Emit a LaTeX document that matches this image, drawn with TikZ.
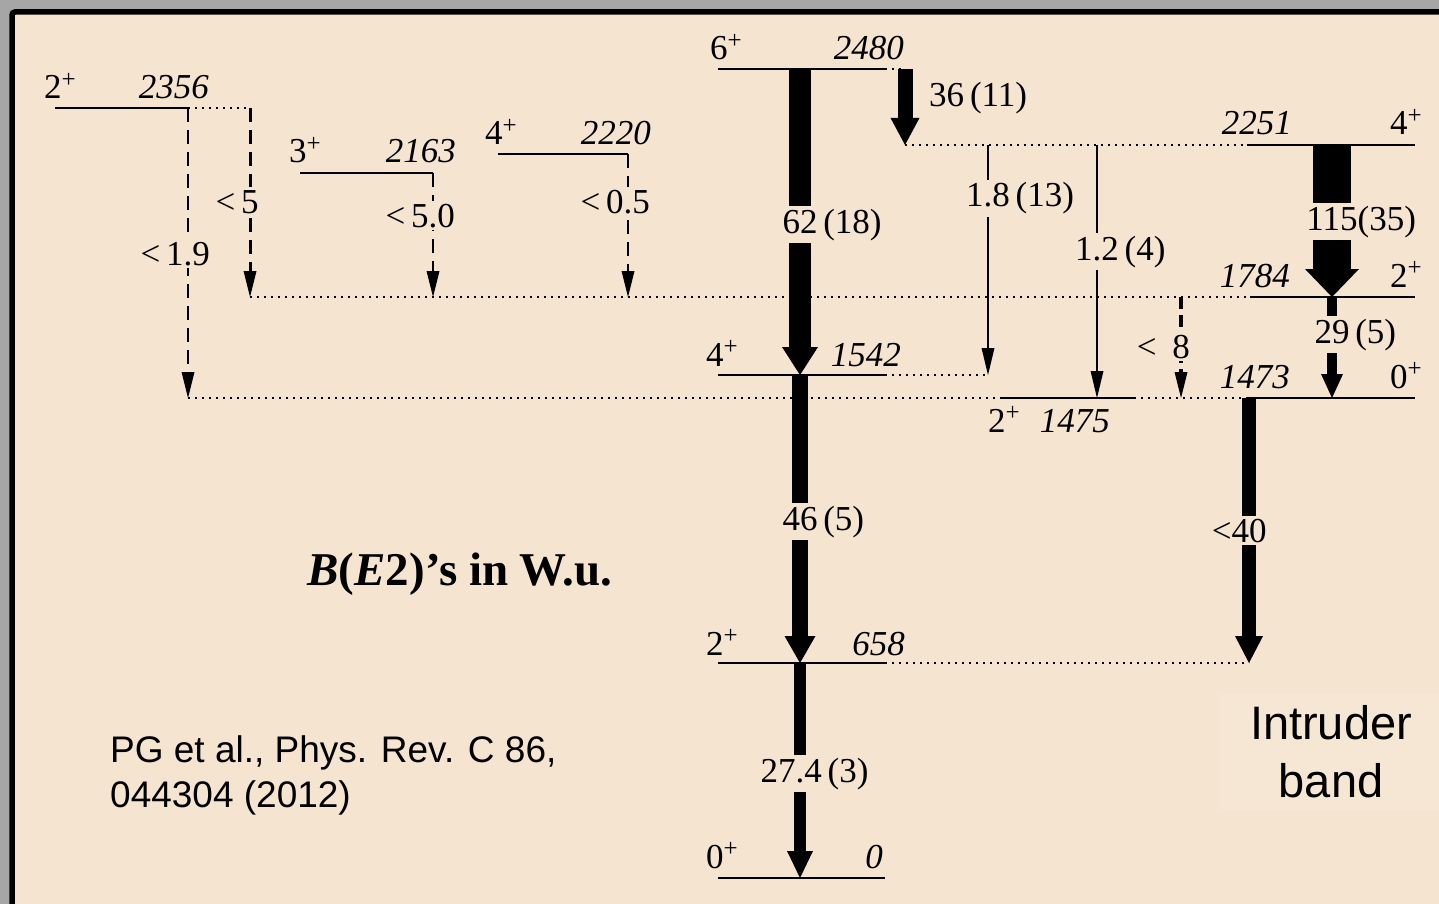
\documentclass[tikz,border=0pt]{standalone}
\usepackage{fontspec}
\setmainfont{Liberation Serif}
\setsansfont{Liberation Sans}
\usepackage{xcolor}
\usepackage{tikz}
\usetikzlibrary{arrows.meta,positioning}
\definecolor{slideGrey}{HTML}{A6A6A6}
\definecolor{slideCream}{HTML}{F5E4D0}
\definecolor{lightCream}{HTML}{F6E7D4}
\newcommand{\pl}{\raisebox{0.34em}{\fontsize{25}{25}\selectfont+}}

\begin{document}
\begin{tikzpicture}[x=1pt,y=-1pt,
    lvl/.style={line width=2pt},
    ext/.style={line width=2pt,dash pattern=on 2pt off 5pt},
    spin/.style={anchor=base west,inner sep=0pt,font=\fontsize{35}{40}\selectfont},
    spinr/.style={spin,anchor=base east},
    en/.style={anchor=base east,inner sep=0pt,font=\fontsize{35}{40}\selectfont\itshape},
    bw/.style={anchor=base,fill=slideCream,inner xsep=5pt,inner ysep=3pt,font=\fontsize{35}{40}\selectfont},
    bar/.style n args={3}{line width=#1,-{Triangle[length=#2,width=#3,line width=0pt]}},
    thin/.style={line width=2pt,-{Triangle[length=27pt,width=13pt,line width=0pt]}},
    weak/.style={line width=#1,dash pattern=on 14pt off 8pt,-{Triangle[length=26pt,width=13pt,line width=0pt]}}]
    \useasboundingbox (0,0) rectangle (1439,904);
    \clip (0,0) rectangle (1439,904);
    \fill[slideGrey] (0,0) rectangle (1439,904);
    \draw[line width=5.5pt,fill=slideCream,rounded corners=3pt] (12,12) rectangle (1480,950);

    \foreach \n/\xa/\xb/\y in {2480/718/885/69,2356/55/188/108,2163/300/433/173,2220/498/628/154,
        2251/1247/1415/145,1784/1250/1415/297,1542/718/885/375,1473/1247/1415/398,
        1475/1002/1134/398,658/718/885/663,0/718/885/878}{
        \coordinate (L\n) at (\xa,\y); \coordinate (R\n) at (\xb,\y);
        \draw[lvl] (L\n) -- (R\n);
    }
    \foreach \g/\x in {a19/188,a5/250,a50/433,a05/628,a62/800,a36/905,a18/988,a12/1097,a8/1181,a40/1249,a115/1332}
        \coordinate (\g) at (\x,0);

    \draw[ext] (R2480) -- (a36 |- R2480);
    \draw[ext] (R2356) -- (a5 |- R2356);
    \draw[ext] (a36 |- L2251) -- (L2251);
    \draw[ext] (a5 |- L1784) -- (L1784);
    \draw[ext] (R1542) -- (a18 |- R1542);
    \draw[ext] (a19 |- L1475) -- (L1475); \draw[ext] (R1475) -- (L1473);
    \draw[ext] (R658) -- (a40 |- R658);

    \node[spin] (s2356) at (44,99) {2\pl};   \node[en] (e2356) at (209,99) {2356};
    \node[spin] (s2163) at (289,163) {3\pl};  \node[en] (e2163) at (456,163) {2163};
    \node[spin] (s2220) at (485,145) {4\pl};  \node[en] (e2220) at (651,145) {2220};
    \node[spin] (s2480) at (710,60) {6\pl};   \node[en] (e2480) at (904,60) {2480};
    \node[spinr] (s2251) at (1422,135) {4\pl}; \node[en] (e2251) at (1292,135) {2251};
    \node[spinr] (s1784) at (1422,287) {2\pl}; \node[en] (e1784) at (1290,287) {1784};
    \node[spin] (s1542) at (706,366) {4\pl};  \node[en] (e1542) at (901,366) {1542};
    \node[spinr] (s1473) at (1422,388) {0\pl}; \node[en] (e1473) at (1290,388) {1473};
    \node[spin] (s1475) at (988,432) {2\pl};  \node[en] (e1475) at (1110,432) {1475};
    \node[spin] (s658) at (706,655) {2\pl};   \node[en] (e658) at (905,655) {658};
    \node[spin] (s0) at (706,868) {0\pl};     \node[en] (e0) at (883,868) {0};

    \draw[weak=2.5pt] (a19 |- L2356) -- (a19 |- L1475);
    \draw[weak=3pt] (a5 |- L2356) -- (a5 |- L1784);
    \draw[weak=2.5pt] (a50 |- L2163) -- (a50 |- L1784);
    \draw[weak=2.5pt] (a05 |- L2220) -- (a05 |- L1784);
    \draw[weak=4pt,dash pattern=on 12pt off 6pt] (a8 |- L1784) -- (a8 |- L1475);
    \draw[thin] (a18 |- L2251) -- (a18 |- L1542);
    \draw[thin] (a12 |- L2251) -- (a12 |- L1475);
    \draw[bar={22pt}{28pt}{36pt}] (a62 |- L2480) -- (a62 |- L1542);
    \draw[bar={15pt}{27pt}{29pt}] (a36 |- L2480) -- (a36 |- L2251);
    \draw[bar={38pt}{28pt}{54pt}] (a115 |- L2251) -- (a115 |- L1784);
    \draw[bar={10pt}{24pt}{22pt}] (a115 |- L1784) -- (a115 |- L1473);
    \draw[bar={16pt}{27pt}{31pt}] (a62 |- L1542) -- (a62 |- L658);
    \draw[bar={14pt}{27pt}{28pt}] (a40 |- L1473) -- (a40 |- L658);
    \draw[bar={12pt}{27pt}{26pt}] (a62 |- L658) -- (a62 |- L0);

    \node[bw] (b19) at (a19 |- 0,265) {\llap{<\,1}.\rlap{9}};
    \node[bw] (b5) at (a5 |- 0,213) {\llap{<\,}5};
    \node[bw] (b50) at (a50 |- 0,227) {\llap{<\,5}.\rlap{0}};
    \node[bw] (b05) at (a05 |- 0,213) {\llap{<\,0}.\rlap{5}};
    \node[bw] (b8) at (a8 |- 0,358) {\llap{<\;\,}8};
    \node[bw] (b18) at (a18 |- 0,207) {\llap{1}.\rlap{8\,(13)}};
    \node[bw] (b12) at (a12 |- 0,260) {\llap{1}.\rlap{2\,(4)}};
    \node[bw] (b62) at (a62 |- 0,233) {62\rlap{\,(18)}};
    \node[bw,anchor=base west,fill=none] (b36) at (924,107) {36\,(11)};
    \node[bw] (b115) at (a115 |- 0,230) {115\rlap{(35)}};
    \node[bw] (b29) at (a115 |- 0,343) {29\rlap{\,(5)}};
    \node[bw] (b46) at (a62 |- 0,530) {46\rlap{\,(5)}};
    \node[bw] (b40) at (a40 |- 0,542) {\llap{<}40};
    \node[bw] (b27) at (a62 |- 0,782) {\llap{27}.\rlap{4\,(3)}};

    \node[anchor=base,font=\fontsize{47}{50}\selectfont\bfseries] (bunit) at (460,585) {\textit{B}(\textit{E}2)’s in W.u.};
    \node[anchor=base west,align=left,inner sep=0pt,font=\sffamily\fontsize{37}{45}\selectfont] (ref) at (110,807) {PG et al., Phys. Rev. C 86,\\044304 (2012)};
    \node[fill=lightCream,align=center,inner xsep=30pt,inner ysep=12pt,font=\sffamily\fontsize{47}{58}\selectfont] (intr) at (1331,752) {Intruder\\band};
\end{tikzpicture}
\end{document}
